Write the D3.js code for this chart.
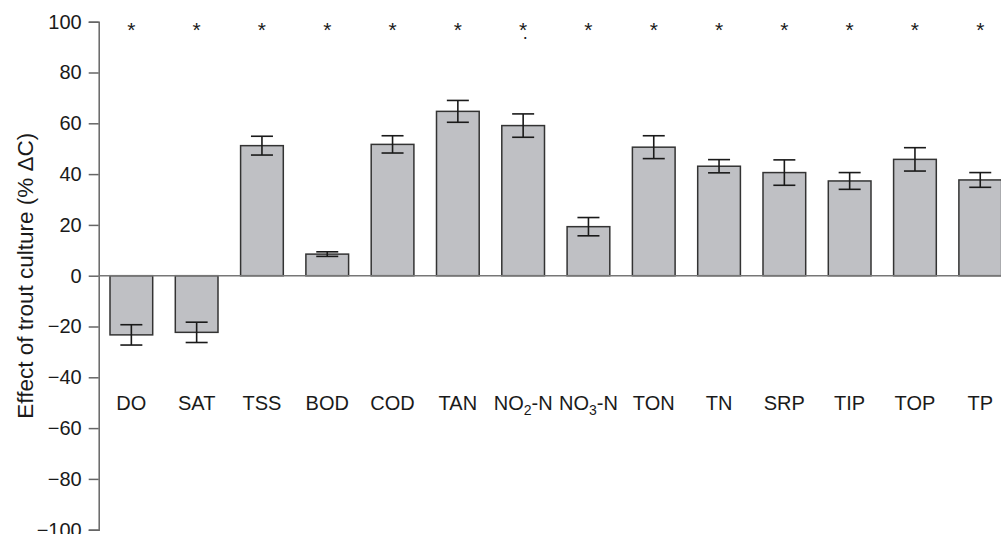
<!DOCTYPE html>
<html>
<head>
<meta charset="utf-8">
<script src="https://cdn.jsdelivr.net/npm/d3@7"></script>
<style>
  body { margin: 0; background: #fff; }
  text { font-family: "Liberation Sans", Arial, Helvetica, sans-serif; fill: #1a1a1a; }
</style>
</head>
<body>
<div id="chart"></div>
<script>
// parameters, mean effect and error (% change)
var labels = ["DO", "SAT", "TSS", "BOD", "COD", "TAN", "NO2-N", "NO3-N", "TON", "TN", "SRP", "TIP", "TOP", "TP"];
var values = [-23.3, -22.3, 51.2, 8.5, 51.7, 64.7, 59.1, 19.3, 50.6, 43.1, 40.6, 37.3, 45.8, 37.7];
var errors = [4.0, 4.0, 3.7, 0.9, 3.4, 4.3, 4.6, 3.6, 4.5, 2.6, 5.0, 3.3, 4.6, 2.9];
var signif = [true, true, true, true, true, true, true, true, true, true, true, true, true, true];
var yTicks = [100, 80, 60, 40, 20, 0, -20, -40, -60, -80, -100];

var width = 1001, height = 534;
var svg = d3.select("#chart").append("svg")
    .attr("width", width)
    .attr("height", height);

var x = d3.scaleBand()
    .domain(labels)
    .range([98.7, 98.7 + 14 * 65.3])
    .paddingInner(0.346)
    .paddingOuter(0.173);

var y = d3.scaleLinear()
    .domain([-100, 100])
    .range([529.7, 21.7]);

// y axis
var yAxis = svg.append("g")
    .attr("transform", "translate(98.7,0)")
    .call(d3.axisLeft(y).tickValues(yTicks).tickSize(10).tickPadding(7).tickFormat(d3.format("d")));
yAxis.select(".domain").attr("stroke", "#666").attr("stroke-width", 1.5);
yAxis.selectAll(".tick line").attr("stroke", "#666").attr("stroke-width", 1.5);
yAxis.selectAll(".tick text").style("font-size", "20px").attr("fill", "#1a1a1a");

svg.append("text")
    .attr("transform", "translate(33," + y(0) + ") rotate(-90)")
    .attr("text-anchor", "middle")
    .style("font-size", "22.5px")
    .text("Effect of trout culture (% \u0394C)");

// bars
svg.append("g")
  .selectAll("rect")
  .data(labels)
  .enter()
  .append("rect")
    .attr("x", function(d) { return x(d); })
    .attr("width", x.bandwidth())
    .attr("y", function(d, i) { return y(Math.max(0, values[i])); })
    .attr("height", function(d, i) { return Math.abs(y(values[i]) - y(0)); })
    .attr("fill", "#bfc0c4")
    .attr("stroke", "#333")
    .attr("stroke-width", 1.5);

// zero line
svg.append("line")
    .attr("x1", 98.7).attr("x2", width)
    .attr("y1", y(0)).attr("y2", y(0))
    .attr("stroke", "#777")
    .attr("stroke-width", 1.5);

// error bars
var err = svg.append("g")
  .selectAll("g")
  .data(labels)
  .enter()
  .append("g")
    .attr("stroke", "#1a1a1a")
    .attr("stroke-width", 1.6);
var cx = function(d) { return x(d) + x.bandwidth() / 2; };
err.append("line")
    .attr("x1", cx).attr("x2", cx)
    .attr("y1", function(d, i) { return y(values[i] + errors[i]); })
    .attr("y2", function(d, i) { return y(values[i] - errors[i]); });
err.append("line")
    .attr("x1", function(d) { return cx(d) - 11; })
    .attr("x2", function(d) { return cx(d) + 11; })
    .attr("y1", function(d, i) { return y(values[i] + errors[i]); })
    .attr("y2", function(d, i) { return y(values[i] + errors[i]); });
err.append("line")
    .attr("x1", function(d) { return cx(d) - 11; })
    .attr("x2", function(d) { return cx(d) + 11; })
    .attr("y1", function(d, i) { return y(values[i] - errors[i]); })
    .attr("y2", function(d, i) { return y(values[i] - errors[i]); });

// significance stars
svg.append("g")
  .selectAll("text")
  .data(labels.filter(function(d, i) { return signif[i]; }))
  .enter()
  .append("text")
    .attr("x", cx)
    .attr("y", 37)
    .attr("text-anchor", "middle")
    .style("font-size", "21px")
    .text("*");
svg.append("text")
    .attr("x", cx("NO2-N") + 2)
    .attr("y", 39)
    .attr("text-anchor", "middle")
    .style("font-size", "18px")
    .text(".");

// category labels, with subscripts for NO2 / NO3
var lab = svg.append("g")
  .selectAll("text")
  .data(labels)
  .enter()
  .append("text")
    .attr("x", cx)
    .attr("y", 410)
    .attr("text-anchor", "middle")
    .style("font-size", "20px");
lab.each(function(d) {
  var t = d3.select(this);
  var m = d.match(/^(NO)(\d)(-N)$/);
  if (m) {
    t.append("tspan").text(m[1]);
    t.append("tspan").attr("dy", 5).style("font-size", "14px").text(m[2]);
    t.append("tspan").attr("dy", -5).text(m[3]);
  } else {
    t.text(d);
  }
});
</script>
</body>
</html>
